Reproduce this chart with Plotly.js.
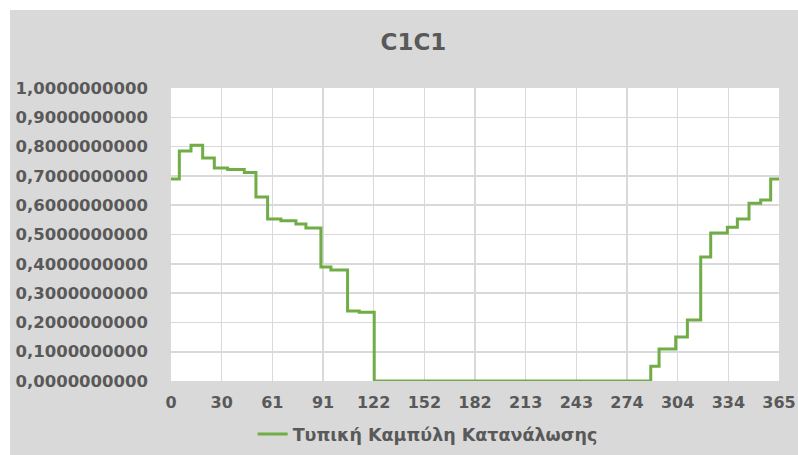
<!DOCTYPE html>
<html>
<head>
<meta charset="utf-8">
<script src="https://cdn.plot.ly/plotly-3.0.1.min.js"></script>
<style>
  html, body { margin: 0; padding: 0; background: #ffffff; }
  #chart { position: absolute; left: 10px; top: 10px; width: 788px; height: 445px; }
</style>
</head>
<body>
<div id="chart"></div>
<script>
// Step breakpoints (day of year) and the curve value from each breakpoint onward
const stepDays   = [0, 5, 12, 19, 26, 34, 44, 51, 58, 66, 75, 81, 90, 96, 106, 113, 122,
                    288, 293, 303, 310, 318, 324, 334, 340, 347, 354, 360, 366];
const stepValues = [0.689, 0.785, 0.805, 0.761, 0.727, 0.722, 0.712, 0.628, 0.553, 0.547, 0.536, 0.522, 0.389, 0.379, 0.239, 0.235, 0.0,
                    0.050, 0.109, 0.150, 0.208, 0.423, 0.505, 0.525, 0.553, 0.607, 0.618, 0.689, 0.689];

const xTickVals   = [0, 30.4167, 60.8333, 91.25, 121.6667, 152.0833, 182.5, 212.9167, 243.3333, 273.75, 304.1667, 334.5833, 365];
const xTickLabels = ["0", "30", "61", "91", "122", "152", "182", "213", "243", "274", "304", "334", "365"];
const yTickVals   = [0, 0.1, 0.2, 0.3, 0.4, 0.5, 0.6, 0.7, 0.8, 0.9, 1.0];

const chartTitle  = "C1C1";
const seriesName  = "Τυπική Καμπύλη Κατανάλωσης";

const textColor = "#595959";
const fontFam = "DejaVu Sans, sans-serif";

const trace = {
  x: stepDays,
  y: stepValues,
  type: "scatter",
  mode: "lines",
  name: seriesName,
  line: { color: "#70ad47", width: 3, shape: "hv" },
  hoverinfo: "skip"
};

const layout = {
  width: 788,
  height: 445,
  paper_bgcolor: "#d9d9d9",
  plot_bgcolor: "#ffffff",
  separators: ",.",
  margin: { l: 160.5, r: 19, t: 78, b: 74, pad: 0 },
  title: {
    text: chartTitle,
    x: 0.512, xref: "container", xanchor: "center",
    y: 1 - 32 / 445, yref: "container", yanchor: "middle",
    font: { family: fontFam, size: 23, color: textColor, weight: "bold" }
  },
  xaxis: {
    range: [0, 365],
    tickmode: "array",
    tickvals: xTickVals,
    ticktext: xTickLabels,
    showgrid: true,
    gridcolor: "#d9d9d9",
    gridwidth: 1.6,
    zeroline: false,
    showline: false,
    ticks: "",
    ticklabelstandoff: 10,
    tickfont: { family: fontFam, size: 16, color: textColor, weight: "bold" },
    fixedrange: true
  },
  yaxis: {
    range: [0, 1.0],
    tickmode: "array",
    tickvals: yTickVals,
    tickformat: ".10f",
    showgrid: true,
    gridcolor: "#d9d9d9",
    gridwidth: 1.6,
    zeroline: false,
    showline: false,
    ticks: "",
    ticklabelstandoff: 22,
    tickfont: { family: fontFam, size: 16.5, color: textColor, weight: "bold" },
    fixedrange: true
  },
  showlegend: true,
  legend: {
    orientation: "h",
    x: 0.53, xref: "container", xanchor: "center",
    y: 1 - 424 / 445, yref: "container", yanchor: "middle",
    bgcolor: "rgba(0,0,0,0)",
    font: { family: fontFam, size: 17.5, color: textColor, weight: "bold" }
  }
};

Plotly.newPlot("chart", [trace], layout, { displayModeBar: false, staticPlot: true });
</script>
</body>
</html>
